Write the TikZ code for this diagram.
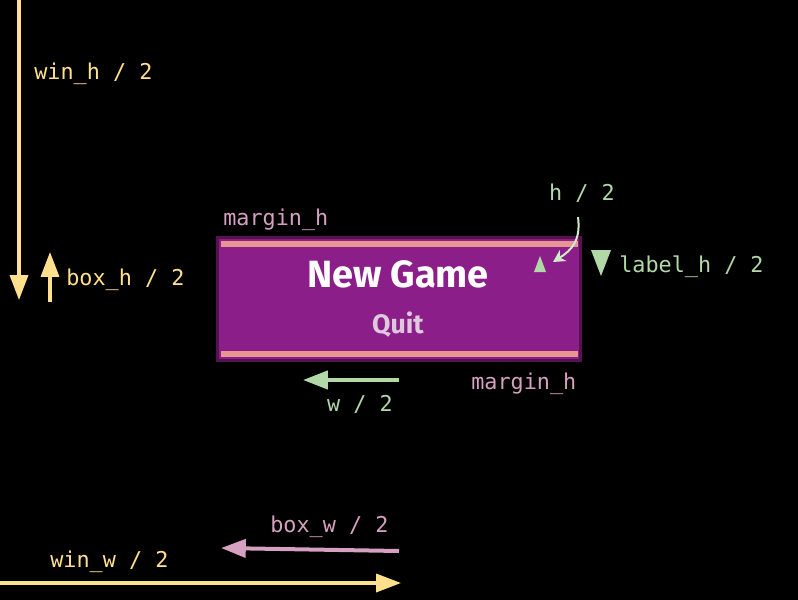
\documentclass[tikz,border=0pt]{standalone}
\usepackage{fontspec}
\setmonofont{DejaVu Sans Mono}
\newfontfamily\gamefont{Fira Sans}
\usetikzlibrary{arrows.meta,calc}
\definecolor{winyellow}{RGB}{255,224,140}
\definecolor{boxpink}{RGB}{214,160,192}
\definecolor{labgreen}{RGB}{178,216,168}
\definecolor{curvegreen}{RGB}{208,232,204}
\definecolor{menupurple}{RGB}{140,30,138}
\definecolor{menuedge}{RGB}{84,18,78}
\definecolor{barpink}{RGB}{232,150,146}
\definecolor{quitgray}{RGB}{222,200,220}

\begin{document}
\begin{tikzpicture}[x=0.025cm, y=-0.025cm,
  dimtext/.style={font=\ttfamily\fontsize{15.5}{18}\selectfont, inner sep=0pt},
  yarr/.style={draw=winyellow, line width=0.08cm,
    -{Triangle[width=0.45cm,length=0.62cm]}},
  parr/.style={draw=boxpink, line width=0.1cm,
    -{Triangle[width=0.45cm,length=0.62cm]}},
  garr/.style={draw=labgreen, line width=0.1cm,
    -{Triangle[width=0.45cm,length=0.62cm]}},
  menubox/.style={rectangle, draw=menuedge, fill=menupurple, line width=0.075cm,
    minimum width=9.05cm, minimum height=3.05cm, inner sep=0pt}
]

% background and frame
\fill[black] (0,0) rectangle (798,600);
\useasboundingbox (0,0) rectangle (798,600);

% the menu box
\node[menubox] (menu) at (399,299) {};
\fill[barpink] (221,241) rectangle (578,247);
\fill[barpink] (221,351) rectangle (578,357);
\node[text=white, font=\gamefont\bfseries\fontsize{27}{30}\selectfont, inner sep=0pt] (newgame) at (398,274) {New Game};
\node[text=quitgray, font=\gamefont\bfseries\fontsize{19}{22}\selectfont, inner sep=0pt] (quit) at (398,325) {Quit};

% window half sizes
\coordinate (winhtop) at (19,0);
\coordinate (winhend) at (19,300);
\draw[yarr] (winhtop) -- (winhend);
\node[dimtext, text=winyellow, anchor=west] (winhlab) at (34,73.5) {win\_h / 2};

\coordinate (winwleft) at (0,583);
\coordinate (winwend) at (401,583);
\draw[yarr] (winwleft) -- (winwend);
\node[dimtext, text=winyellow, anchor=west] (winwlab) at (50,561.5) {win\_w / 2};

% box half sizes
\coordinate (boxhbot) at (50,302);
\coordinate (boxhend) at (50,252);
\draw[yarr] (boxhbot) -- (boxhend);
\node[dimtext, text=winyellow, anchor=west] (boxhlab) at (66,279.5) {box\_h / 2};

\coordinate (boxwright) at (399,551);
\coordinate (boxwend) at (221,548);
\draw[parr] (boxwright) -- (boxwend);
\node[dimtext, text=boxpink, anchor=west] (boxwlab) at (270,526.5) {box\_w / 2};

% margins
\node[dimtext, text=boxpink, anchor=west] (margtop) at (223,219.5) {margin\_h};
\node[dimtext, text=boxpink, anchor=west] (margbot) at (471,383.5) {margin\_h};

% label half sizes
\coordinate (wright) at (399,380);
\coordinate (wend) at (303,380);
\draw[garr] (wright) -- (wend);
\node[dimtext, text=labgreen] (wlab) at (360,404) {w / 2};

\node[dimtext, text=labgreen] (hlab) at (582,193.5) {h / 2};
\coordinate (hstart) at (578,217);
\coordinate (htip) at (553,262);
\draw[curvegreen, line width=0.05cm, -{Stealth[width=0.32cm,length=0.3cm]}]
  (hstart) .. controls (581,240) and (572,250) .. (htip);
\fill[labgreen] (534,272) -- (546,272) -- (540,256) -- cycle;

\fill[labgreen] (591,250) -- (611,250) -- (601,276) -- cycle;
\node[dimtext, text=labgreen, anchor=west] (labelhlab) at (619,266.5) {label\_h / 2};

\end{tikzpicture}
\end{document}
